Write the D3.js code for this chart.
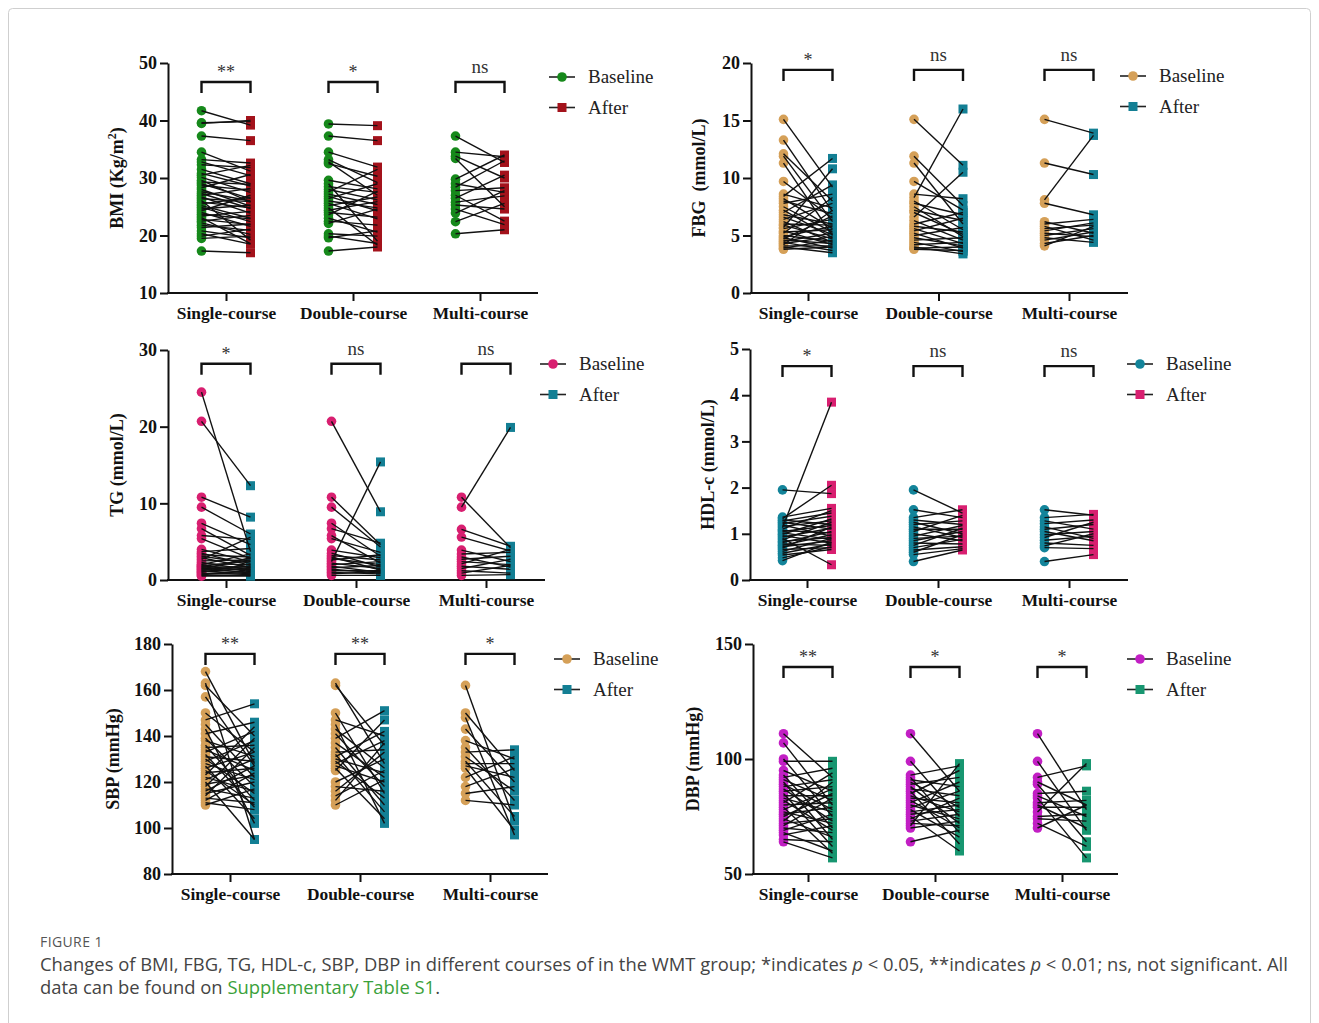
<!DOCTYPE html>
<html>
<head>
<meta charset="utf-8">
<script src="https://cdn.jsdelivr.net/npm/d3@7"></script>
<style>
  body { margin: 0; background: #fff; }
  svg { display: block; }
</style>
</head>
<body>
<div id="chart"></div>
<script>
// categories shared by every panel
var courses = ["Single-course", "Double-course", "Multi-course"];
var legendNames = ["Baseline", "After"];

// ---- BMI (Kg/m2) ----
var bmiSingleBase  = [41.7, 39.6, 39.5, 37.3, 34.5, 33.2, 32.8, 32.3, 31.5, 30.8, 30.5, 30.1, 29.6, 29.3, 29.0, 28.7, 28.3, 28.0, 27.6, 27.3, 27.0, 26.7, 26.4, 26.1, 25.8, 25.5, 25.2, 24.9, 24.6, 24.3, 24.0, 23.7, 23.4, 23.1, 22.8, 22.5, 22.2, 21.8, 21.4, 20.8, 20.3, 19.9, 19.5, 17.3];
var bmiSingleAfter = [39.2, 39.8, 40.0, 36.5, 31.2, 32.6, 30.4, 31.8, 29.0, 28.6, 32.2, 27.5, 25.8, 28.9, 26.4, 27.9, 30.6, 25.1, 26.0, 24.7, 28.2, 23.9, 25.9, 19.2, 24.8, 26.6, 23.0, 22.4, 25.3, 27.0, 21.6, 22.9, 24.2, 18.6, 21.9, 23.5, 20.2, 20.9, 22.0, 19.6, 18.5, 21.1, 19.9, 17.0];
var bmiDoubleBase  = [39.4, 37.3, 34.5, 33.2, 32.8, 32.5, 29.6, 29.0, 28.5, 28.0, 27.6, 27.2, 26.8, 26.4, 26.0, 25.6, 25.2, 24.8, 24.4, 24.0, 23.6, 23.0, 22.5, 22.1, 20.3, 19.9, 19.6, 17.3];
var bmiDoubleAfter = [39.1, 36.5, 31.9, 29.2, 27.0, 30.3, 28.1, 19.0, 27.5, 26.2, 31.5, 25.4, 24.3, 29.0, 24.8, 22.9, 26.7, 18.3, 25.9, 23.2, 27.7, 20.6, 21.8, 24.6, 19.9, 18.6, 20.8, 18.0];
var bmiMultiBase   = [37.3, 34.5, 33.8, 33.4, 29.8, 29.0, 28.4, 27.8, 27.0, 26.5, 25.8, 25.3, 24.6, 23.9, 22.4, 20.3];
var bmiMultiAfter  = [32.7, 33.7, 30.0, 25.0, 34.0, 27.5, 33.0, 28.3, 22.5, 30.5, 26.9, 24.6, 21.9, 27.8, 25.6, 21.0];
var bmiTicks = [10, 20, 30, 40, 50];
var bmiSig = ["**", "*", "ns"];

// ---- FBG (mmol/L) ----
var fbgSingleBase  = [15.1, 13.3, 12.1, 11.9, 11.3, 9.7, 8.6, 8.4, 8.2, 8.0, 7.8, 7.5, 7.2, 7.0, 6.8, 6.6, 6.4, 6.2, 6.0, 5.9, 5.7, 5.6, 5.4, 5.3, 5.2, 5.0, 4.9, 4.8, 4.7, 4.6, 4.5, 4.4, 4.3, 4.2, 4.1, 4.0, 3.9, 3.8];
var fbgSingleAfter = [9.2, 7.1, 8.0, 6.2, 5.0, 6.5, 7.4, 11.7, 5.6, 6.9, 8.6, 5.3, 4.8, 9.4, 6.0, 5.1, 7.8, 4.4, 5.9, 4.7, 10.8, 6.4, 4.2, 5.5, 8.3, 4.5, 5.8, 3.9, 6.7, 4.3, 5.2, 3.7, 4.9, 7.2, 4.1, 3.5, 4.6, 4.0];
var fbgDoubleBase  = [15.1, 11.9, 11.3, 9.7, 8.6, 8.3, 8.0, 7.8, 7.5, 7.2, 7.0, 6.6, 6.3, 6.0, 5.8, 5.6, 5.4, 5.2, 5.0, 4.8, 4.6, 4.4, 4.2, 4.0, 3.8, 3.9];
var fbgDoubleAfter = [11.1, 7.6, 6.0, 7.2, 8.2, 16.0, 5.5, 6.8, 4.9, 6.3, 5.1, 10.5, 4.6, 7.0, 5.3, 4.3, 6.5, 3.9, 5.7, 4.1, 4.8, 3.6, 4.4, 3.4, 3.7, 4.0];
var fbgMultiBase   = [15.1, 11.3, 8.1, 7.8, 6.2, 6.0, 5.8, 5.6, 5.4, 5.2, 5.0, 4.8, 4.6, 4.3, 4.1];
var fbgMultiAfter  = [13.9, 10.3, 13.7, 6.8, 5.2, 6.4, 4.6, 5.9, 6.1, 4.9, 5.6, 4.4, 5.3, 5.0, 5.8];
var fbgTicks = [0, 5, 10, 15, 20];
var fbgSig = ["*", "ns", "ns"];

// ---- TG (mmol/L) ----
var tgSingleBase  = [24.5, 20.7, 10.8, 9.5, 7.4, 6.7, 5.8, 5.4, 4.0, 3.7, 3.5, 3.3, 3.1, 2.9, 2.7, 2.5, 2.3, 2.1, 2.0, 1.9, 1.8, 1.7, 1.6, 1.5, 1.4, 1.3, 1.2, 1.1, 1.0, 0.9, 0.8, 0.7, 0.6, 0.5];
var tgSingleAfter = [3.7, 12.3, 8.2, 6.0, 4.6, 3.2, 5.3, 2.8, 2.4, 4.1, 1.9, 3.0, 2.2, 1.6, 5.6, 2.6, 1.3, 2.0, 3.4, 1.1, 2.5, 1.7, 0.9, 1.4, 2.9, 1.8, 0.8, 1.5, 2.1, 0.7, 1.2, 1.0, 0.6, 0.5];
var tgDoubleBase  = [20.7, 10.8, 9.5, 7.4, 6.7, 5.8, 5.4, 3.9, 3.5, 3.2, 3.0, 2.8, 2.6, 2.4, 2.2, 2.0, 1.8, 1.6, 1.4, 1.2, 1.0, 0.8, 0.6];
var tgDoubleAfter = [8.9, 4.6, 4.3, 3.1, 4.8, 2.2, 3.6, 2.9, 1.7, 2.6, 1.3, 2.0, 3.3, 15.4, 1.5, 2.4, 1.0, 1.9, 0.9, 1.2, 0.8, 1.1, 0.6];
var tgMultiBase   = [10.8, 9.5, 6.6, 5.6, 3.9, 3.4, 3.0, 2.7, 2.4, 2.1, 1.8, 1.5, 1.2, 0.9, 0.6];
var tgMultiAfter  = [4.2, 19.9, 4.4, 3.8, 2.4, 3.6, 1.7, 3.1, 2.0, 4.0, 1.4, 2.7, 0.9, 1.9, 0.7];
var tgTicks = [0, 10, 20, 30];
var tgSig = ["*", "ns", "ns"];

// ---- HDL-c (mmol/L) ----
var hdlSingleBase  = [1.95, 1.36, 1.33, 1.30, 1.28, 1.25, 1.22, 1.19, 1.16, 1.13, 1.10, 1.07, 1.05, 1.02, 0.99, 0.96, 0.93, 0.90, 0.87, 0.84, 0.81, 0.78, 0.75, 0.72, 0.69, 0.66, 0.62, 0.58, 0.54, 0.48, 0.42];
var hdlSingleAfter = [1.87, 1.55, 2.05, 1.20, 1.45, 1.10, 1.38, 0.95, 1.28, 3.85, 1.50, 1.02, 1.18, 0.88, 1.32, 0.80, 1.12, 0.33, 1.25, 0.92, 1.05, 0.75, 0.98, 0.85, 1.15, 0.70, 0.90, 0.78, 0.66, 0.72, 0.82];
var hdlDoubleBase  = [1.95, 1.52, 1.35, 1.30, 1.25, 1.20, 1.15, 1.10, 1.05, 1.00, 0.95, 0.90, 0.85, 0.80, 0.75, 0.70, 0.65, 0.60, 0.55, 0.40];
var hdlDoubleAfter = [1.45, 1.35, 1.52, 1.20, 1.00, 1.28, 0.92, 1.10, 1.40, 0.85, 1.18, 0.95, 1.05, 0.78, 1.12, 0.88, 0.72, 0.98, 0.68, 0.65];
var hdlMultiBase   = [1.52, 1.35, 1.28, 1.22, 1.15, 1.10, 1.05, 0.98, 0.92, 0.86, 0.80, 0.74, 0.70, 0.40];
var hdlMultiAfter  = [1.40, 1.42, 1.10, 1.30, 0.90, 1.20, 0.85, 1.05, 1.25, 0.95, 0.75, 1.00, 0.68, 0.55];
var hdlTicks = [0, 1, 2, 3, 4, 5];
var hdlSig = ["*", "ns", "ns"];

// ---- SBP (mmHg) ----
var sbpSingleBase  = [168, 163, 162, 157, 150, 147, 145, 143, 141, 139, 138, 136, 135, 134, 133, 132, 131, 130, 129, 128, 127, 126, 125, 124, 123, 122, 121, 120, 119, 118, 117, 116, 115, 114, 113, 112, 111, 110];
var sbpSingleAfter = [128, 95, 140, 127, 133, 154, 122, 102, 146, 118, 131, 112, 136, 125, 142, 109, 129, 115, 138, 121, 104, 133, 110, 126, 144, 116, 130, 95, 123, 139, 113, 127, 120, 135, 111, 124, 108, 117];
var sbpDoubleBase  = [163, 162, 150, 147, 145, 143, 141, 139, 137, 135, 133, 132, 131, 130, 129, 128, 127, 126, 125, 120, 118, 116, 114, 112, 110];
var sbpDoubleAfter = [128, 136, 115, 140, 102, 126, 118, 151, 122, 110, 134, 107, 142, 124, 113, 138, 120, 104, 147, 130, 116, 133, 125, 137, 121];
var sbpMultiBase   = [162, 150, 148, 143, 138, 135, 133, 131, 129, 128, 127, 126, 122, 118, 115, 112];
var sbpMultiAfter  = [103, 125, 97, 120, 130, 112, 134, 116, 105, 128, 122, 99, 131, 126, 118, 110];
var sbpTicks = [80, 100, 120, 140, 160, 180];
var sbpSig = ["**", "**", "*"];

// ---- DBP (mmHg) ----
var dbpSingleBase  = [111, 107, 100, 99, 95, 93, 92, 91, 90, 89, 88, 87, 86, 85, 84, 83, 82, 81, 80, 79, 78, 77, 76, 75, 74, 73, 72, 71, 70, 69, 68, 67, 65, 64];
var dbpSingleAfter = [92, 80, 75, 99, 86, 70, 96, 82, 65, 78, 91, 73, 88, 62, 84, 77, 69, 94, 81, 59, 87, 72, 79, 85, 66, 90, 74, 83, 68, 76, 60, 71, 64, 57];
var dbpDoubleBase  = [111, 99, 93, 92, 91, 90, 89, 88, 87, 86, 85, 84, 83, 82, 81, 80, 79, 78, 77, 76, 75, 74, 73, 72, 71, 70, 64];
var dbpDoubleAfter = [86, 75, 97, 68, 88, 79, 92, 72, 84, 63, 95, 77, 81, 70, 90, 74, 86, 66, 80, 78, 60, 83, 76, 71, 98, 73, 69];
var dbpMultiBase   = [111, 99, 92, 90, 89, 85, 84, 83, 81, 80, 79, 77, 75, 74, 72, 70];
var dbpMultiAfter  = [78, 69, 97, 80, 64, 86, 75, 57, 82, 70, 79, 98, 76, 73, 62, 80];
var dbpTicks = [50, 100, 150];
var dbpSig = ["**", "*", "*"];

var W = 1319, H = 1023;
var serif = "'Liberation Serif', 'Times New Roman', serif";
var sans = "'Open Sans', 'Noto Sans', sans-serif";

var svg = d3.select("#chart").append("svg")
  .attr("width", W).attr("height", H);

// card frame
svg.append("rect")
  .attr("x", 8.5).attr("y", 8.5).attr("width", 1302).attr("height", 1100)
  .attr("rx", 4).attr("fill", "none").attr("stroke", "#cfcfcf");

// panel layout (pixels) + data wiring
var panels = [
  { label: "BMI (Kg/m", sup: "2", labelEnd: ")", labelX: 123,
    domain: [10, 50], ticks: bmiTicks, sig: bmiSig, brk: 46.7,
    top: 63, bottom: 293, left: 168, right: 538, c0: 226, c1: 480,
    colBase: "#16891b", colAfter: "#a3121b", legX: 562, legY: 77,
    data: [[bmiSingleBase, bmiSingleAfter], [bmiDoubleBase, bmiDoubleAfter], [bmiMultiBase, bmiMultiAfter]] },
  { label: "FBG  (mmol/L)", labelX: 705,
    domain: [0, 20], ticks: fbgTicks, sig: fbgSig, brk: 19.4,
    top: 63, bottom: 293, left: 751, right: 1128, c0: 808, c1: 1069,
    colBase: "#d5a058", colAfter: "#137f94", legX: 1133, legY: 76,
    data: [[fbgSingleBase, fbgSingleAfter], [fbgDoubleBase, fbgDoubleAfter], [fbgMultiBase, fbgMultiAfter]] },
  { label: "TG (mmol/L)", labelX: 123,
    domain: [0, 30], ticks: tgTicks, sig: tgSig, brk: 28.2,
    top: 350, bottom: 580, left: 168, right: 545, c0: 226, c1: 486,
    colBase: "#d81f70", colAfter: "#137f94", legX: 553, legY: 364,
    data: [[tgSingleBase, tgSingleAfter], [tgDoubleBase, tgDoubleAfter], [tgMultiBase, tgMultiAfter]] },
  { label: "HDL-c (mmol/L)", labelX: 714,
    domain: [0, 5], ticks: hdlTicks, sig: hdlSig, brk: 4.63,
    top: 349, bottom: 580, left: 750, right: 1128, c0: 807, c1: 1069,
    colBase: "#13849a", colAfter: "#d81f70", legX: 1140, legY: 364,
    data: [[hdlSingleBase, hdlSingleAfter], [hdlDoubleBase, hdlDoubleAfter], [hdlMultiBase, hdlMultiAfter]] },
  { label: "SBP (mmHg)", labelX: 119,
    domain: [80, 180], ticks: sbpTicks, sig: sbpSig, brk: 175.7,
    top: 644, bottom: 874, left: 172, right: 548, c0: 230, c1: 490,
    colBase: "#d5a058", colAfter: "#137f94", legX: 567, legY: 659,
    data: [[sbpSingleBase, sbpSingleAfter], [sbpDoubleBase, sbpDoubleAfter], [sbpMultiBase, sbpMultiAfter]] },
  { label: "DBP (mmHg)", labelX: 699,
    domain: [50, 150], ticks: dbpTicks, sig: dbpSig, brk: 140,
    top: 644, bottom: 874, left: 753, right: 1118, c0: 808, c1: 1062,
    colBase: "#c21fc4", colAfter: "#179670", legX: 1140, legY: 659,
    data: [[dbpSingleBase, dbpSingleAfter], [dbpDoubleBase, dbpDoubleAfter], [dbpMultiBase, dbpMultiAfter]] }
];

var off = 24.5;   // half distance between baseline and after columns

function marker(g, shape, x, y, color) {
  if (shape === "circle") {
    g.append("circle").attr("cx", x).attr("cy", y).attr("r", 4.8).attr("fill", color);
  } else {
    g.append("rect").attr("x", x - 4.5).attr("y", y - 4.5)
      .attr("width", 9).attr("height", 9).attr("fill", color);
  }
}

panels.forEach(function(p) {
  var g = svg.append("g");

  var y = d3.scaleLinear().domain(p.domain).range([p.bottom, p.top]);
  var x = d3.scalePoint().domain(courses).range([p.c0, p.c1]);

  // y axis
  var ya = g.append("g")
    .attr("transform", "translate(" + p.left + ",0)")
    .call(d3.axisLeft(y).tickValues(p.ticks).tickFormat(d3.format("d"))
      .tickSize(8).tickSizeOuter(0).tickPadding(3));
  ya.select(".domain").attr("stroke", "#111").attr("stroke-width", 2);
  ya.selectAll(".tick line").attr("stroke", "#111").attr("stroke-width", 2);
  ya.selectAll(".tick text").attr("fill", "#111")
    .style("font-family", serif).style("font-weight", "bold").style("font-size", "18px");

  // x axis
  var xa = g.append("g")
    .attr("transform", "translate(0," + p.bottom + ")")
    .call(d3.axisBottom(x).tickSize(8).tickSizeOuter(0).tickPadding(6));
  xa.select(".domain").remove();
  xa.append("line").attr("x1", p.left - 1).attr("x2", p.right)
    .attr("stroke", "#111").attr("stroke-width", 2);
  xa.selectAll(".tick line").attr("stroke", "#111").attr("stroke-width", 2);
  xa.selectAll(".tick text").attr("fill", "#111")
    .style("font-family", serif).style("font-weight", "bold").style("font-size", "17.4px");

  // y label
  var yl = g.append("text")
    .attr("transform", "translate(" + p.labelX + "," + ((p.top + p.bottom) / 2) + ") rotate(-90)")
    .attr("text-anchor", "middle")
    .style("font-family", serif).style("font-weight", "bold").style("font-size", "18px")
    .attr("fill", "#111")
    .style("white-space", "pre");
  yl.append("tspan").text(p.label);
  if (p.sup) {
    yl.append("tspan").attr("dy", -7).style("font-size", "12px").text(p.sup);
    yl.append("tspan").attr("dy", 7).text(p.labelEnd);
  }

  // paired data
  courses.forEach(function(c, ci) {
    var cx = x(c);
    var base = p.data[ci][0], after = p.data[ci][1];
    var mg = g.append("g");
    base.forEach(function(v) { marker(mg, "circle", cx - off, y(v), p.colBase); });
    after.forEach(function(v) { marker(mg, "square", cx + off, y(v), p.colAfter); });
    g.append("g").selectAll("line")
      .data(d3.zip(base, after))
      .join("line")
        .attr("x1", cx - off).attr("y1", function(d) { return y(d[0]); })
        .attr("x2", cx + off).attr("y2", function(d) { return y(d[1]); })
        .attr("stroke", "#111").attr("stroke-width", 1.4);

    // significance bracket
    var by = y(p.brk);
    g.append("path")
      .attr("d", "M" + (cx - off) + "," + (by + 11) + "V" + by + "H" + (cx + off) + "V" + (by + 11))
      .attr("fill", "none").attr("stroke", "#111").attr("stroke-width", 2.4);
    var s = p.sig[ci];
    g.append("text")
      .attr("x", cx).attr("y", s === "ns" ? by - 9 : by - 4)
      .attr("text-anchor", "middle")
      .style("font-family", serif)
      .style("font-size", s === "ns" ? "19px" : "18px")
      .attr("fill", "#333")
      .text(s);
  });

  // legend
  legendNames.forEach(function(name, i) {
    var ly = p.legY + i * 30.5;
    g.append("line").attr("x1", p.legX - 13).attr("x2", p.legX + 13)
      .attr("y1", ly).attr("y2", ly).attr("stroke", "#222").attr("stroke-width", 1.6);
    marker(g, i === 0 ? "circle" : "square", p.legX, ly, i === 0 ? p.colBase : p.colAfter);
    g.append("text").attr("x", p.legX + 26).attr("y", ly + 6)
      .style("font-family", serif).style("font-size", "19px").attr("fill", "#222")
      .text(name);
  });
});

// caption
svg.append("text").attr("x", 40).attr("y", 947)
  .style("font-family", sans).style("font-size", "14px")
  .style("letter-spacing", "0.4px").attr("fill", "#555").text("FIGURE 1");

var cap1 = svg.append("text").attr("x", 40).attr("y", 971)
  .style("font-family", sans).style("font-size", "18.4px")
  .attr("fill", "#444");
cap1.append("tspan").text("Changes of BMI, FBG, TG, HDL-c, SBP, DBP in different courses of in the WMT group; *indicates ");
cap1.append("tspan").style("font-style", "italic").text("p");
cap1.append("tspan").text(" < 0.05, **indicates ");
cap1.append("tspan").style("font-style", "italic").text("p");
cap1.append("tspan").text(" < 0.01; ns, not significant. All");

var cap2 = svg.append("text").attr("x", 40).attr("y", 994)
  .style("font-family", sans).style("font-size", "18.4px")
  .attr("fill", "#444");
cap2.append("tspan").text("data can be found on ");
cap2.append("tspan").attr("fill", "#3aa13a").text("Supplementary Table S1");
cap2.append("tspan").text(".");
</script>
</body>
</html>
